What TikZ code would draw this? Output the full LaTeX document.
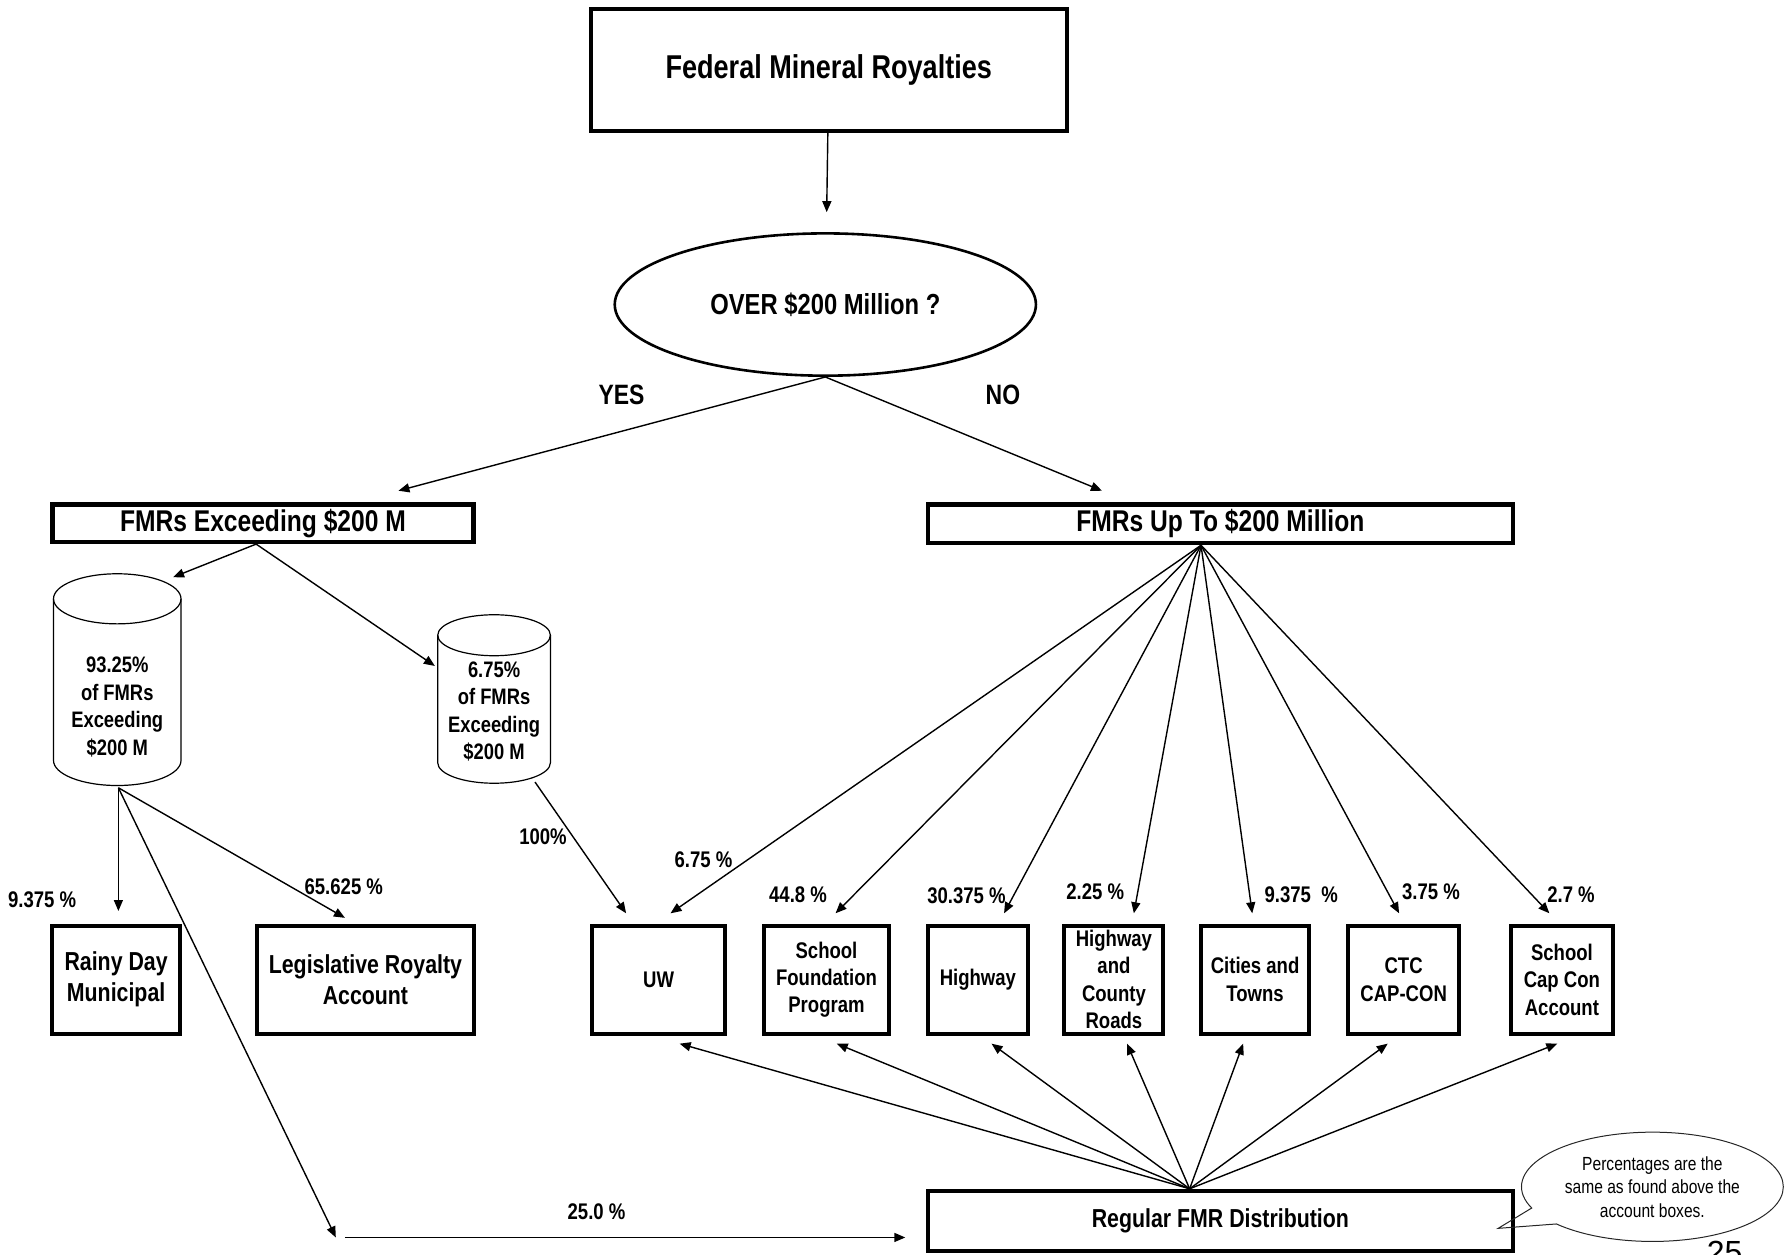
\documentclass[tikz,border=0pt]{standalone}
\usepackage{fontspec}
\setmainfont{Liberation Sans}[FakeStretch=0.82]
\newfontfamily\pageNumFont{Liberation Sans}
\usetikzlibrary{arrows.meta, positioning, shapes.geometric, shapes.callouts, calc}
\tikzset{
    flowArrow/.style={-{Triangle[length=5.5pt, width=4.5pt]}, line width=0.7pt},
    tankLine/.style={line width=0.6pt},
    titleBox/.style={rectangle, draw=black, line width=2pt, inner sep=0pt, align=center, font=\fontsize{16.5}{19}\selectfont\bfseries},
    headBox/.style={rectangle, draw=black, line width=2.2pt, inner sep=0pt, align=center, font=\fontsize{15}{18}\selectfont\bfseries},
    acctBox/.style={rectangle, draw=black, line width=2pt, inner sep=0pt, align=center, minimum height=1.9cm, font=\fontsize{11.3}{13.7}\selectfont\bfseries},
    bigAcctBox/.style={acctBox, font=\fontsize{13}{15.5}\selectfont\bfseries},
    pctLabel/.style={inner sep=0pt, font=\fontsize{11.3}{13.7}\selectfont\bfseries}
}

\begin{document}
\begin{tikzpicture}
        \useasboundingbox (0,0) rectangle (31.36,-22.04);

        % --- Local Styles ---
        \tikzset{
            decisionNode/.style={ellipse, draw=black, line width=1.3pt, inner sep=0pt, font=\fontsize{14.5}{17}\selectfont\bfseries},
            branchLabel/.style={inner sep=0pt, font=\fontsize{14}{17}\selectfont\bfseries},
            tankText/.style={inner sep=0pt, align=center, font=\fontsize{11.2}{13.7}\selectfont\bfseries},
            noteCallout/.style={ellipse callout, draw=black!85, line width=0.5pt, inner sep=0pt, align=center, font=\fontsize{9.5}{11.7}\selectfont}
        }

        % --- Tank Macro (name, half width, top, bottom, cap radius) ---
        \def\drawTank#1#2#3#4#5{
            \draw[tankLine] ($(#1)+(-#2,#3-#5)$) -- ($(#1)+(-#2,-#4+#5)$)
                arc[start angle=180, end angle=360, x radius=#2cm, y radius=#5cm]
                -- ($(#1)+(#2,#3-#5)$);
            \draw[tankLine] ($(#1)+(0,#3-#5)$) ellipse[x radius=#2cm, y radius=#5cm];
        }

        % 1. Top of the tree
        \node[titleBox, minimum width=8.36cm, minimum height=2.14cm] (fed) at (14.56,-1.23) {Federal Mineral Royalties};
        \node[decisionNode, minimum width=7.4cm, minimum height=2.5cm] (over) at (14.5,-5.35) {OVER \$200 Million ?};
        \draw[flowArrow, shorten >=0.35cm] (fed) -- (over);

        \node[branchLabel] (yes) at (10.92,-6.94) {YES};
        \node[branchLabel] (no) at (17.62,-6.94) {NO};

        % 2. Split boxes
        \node[headBox, minimum width=7.4cm, minimum height=0.66cm] (exc) at (4.62,-9.19) {FMRs Exceeding \$200 M};
        \node[headBox, minimum width=10.28cm, minimum height=0.68cm] (upto) at (21.44,-9.2) {FMRs Up To \$200 Million};

        \draw[flowArrow] (over.south) -- ($(exc.north)+(2.38,0.2)$);
        \draw[flowArrow] (over.south) -- ($(upto.north)+(-2.08,0.2)$);

        % 3. Tanks
        \node[tankText] (tankBig) at (2.06,-12.42) {93.25\%\\of FMRs\\Exceeding\\\$200 M};
        \drawTank{tankBig}{1.12}{2.34}{1.38}{0.44}
        \node[tankText] (tankSmall) at (8.68,-12.5) {6.75\%\\of FMRs\\Exceeding\\\$200 M};
        \drawTank{tankSmall}{0.99}{1.7}{1.26}{0.36}

        \draw[flowArrow] ($(exc.south)+(-0.12,0)$) -- ($(tankBig)+(0.98,2.28)$);
        \draw[flowArrow] ($(exc.south)+(-0.12,0)$) -- ($(tankSmall)+(-1.04,0.8)$);

        \coordinate (tankBigOut) at ($(tankBig)+(0.02,-1.42)$);
        \coordinate (tankSmallOut) at ($(tankSmall)+(0.72,-1.24)$);

        % 4. Account boxes
        \node[bigAcctBox, minimum width=2.24cm] (rainy) at (2.04,-17.21) {Rainy Day\\Municipal};
        \node[bigAcctBox, minimum width=3.8cm] (legis) at (6.42,-17.21) {Legislative Royalty\\Account};
        \node[acctBox, minimum width=2.34cm] (uw) at (11.57,-17.21) {UW};
        \node[acctBox, minimum width=2.2cm] (sfp) at (14.52,-17.21) {School\\Foundation\\Program};
        \node[acctBox, minimum width=1.76cm] (hwy) at (17.18,-17.21) {Highway};
        \node[acctBox, minimum width=1.74cm] (hcr) at (19.57,-17.21) {Highway\\and\\County\\Roads};
        \node[acctBox, minimum width=1.9cm] (cities) at (22.05,-17.21) {Cities and\\Towns};
        \node[acctBox, minimum width=1.96cm] (ctc) at (24.66,-17.21) {CTC\\CAP-CON};
        \node[acctBox, minimum width=1.8cm] (scc) at (27.44,-17.21) {School\\Cap Con\\Account};

        \node[headBox, line width=2pt, minimum width=10.28cm, minimum height=1.06cm, font=\fontsize{13}{15.5}\selectfont\bfseries] (regular) at (21.44,-21.45) {Regular FMR Distribution};

        % 5. Flows out of the exceeding tanks
        \coordinate (splitPt) at (5.9,-21.74);
        \draw[flowArrow] (tankBigOut) -- ($(tankBigOut |- rainy.north)+(0,0.22)$);
        \draw[flowArrow] (tankBigOut) -- ($(legis.north)+(-0.36,0.1)$);
        \draw[flowArrow] (tankBigOut) -- (splitPt);
        \draw[flowArrow] ($(splitPt)+(0.16,0)$) -- ($(regular.west |- splitPt)+(-0.36,0)$);
        \draw[flowArrow] (tankSmallOut) -- ($(uw.north)+(-0.57,0.18)$);

        % 6. Regular fans (top and bottom)
        \coordinate (upOut) at ($(upto.south)+(-0.34,0)$);
        \foreach \acct/\dx in {uw/0.21, sfp/0.16, hwy/0.46, hcr/0.35, cities/-0.05, ctc/-0.08, scc/-0.22} {
            \draw[flowArrow] (upOut) -- ($(\acct.north)+(\dx,0.18)$);
        }
        \coordinate (regOut) at ($(regular.north)+(-0.54,0)$);
        \foreach \acct/\dx in {uw/0.37, sfp/0.18, hwy/0.24, hcr/0.23, cities/-0.21, ctc/-0.28, scc/-0.08} {
            \draw[flowArrow] (regOut) -- ($(\acct.south)+(\dx,-0.14)$);
        }

        % 7. Percentages
        \node[pctLabel] (pRainy) at (0.74,-15.8) {9.375 \%};
        \node[pctLabel] (pLegis) at (6.04,-15.58) {65.625 \%};
        \node[pctLabel] (pSmall) at (9.54,-14.7) {100\%};
        \node[pctLabel] (pUw) at (12.36,-15.1) {6.75 \%};
        \node[pctLabel] (pSfp) at (14.02,-15.72) {44.8 \%};
        \node[pctLabel] (pHwy) at (16.98,-15.74) {30.375 \%};
        \node[pctLabel] (pHcr) at (19.24,-15.66) {2.25 \%};
        \node[pctLabel] (pCities) at (22.86,-15.72) {9.375\ \ \%};
        \node[pctLabel] (pCtc) at (25.14,-15.66) {3.75 \%};
        \node[pctLabel] (pScc) at (27.6,-15.72) {2.7 \%};
        \node[pctLabel] (pRegular) at (10.48,-21.28) {25.0 \%};

        % 8. Note and page number
        \node[noteCallout, minimum width=4.6cm, minimum height=1.92cm, callout absolute pointer={(26.32,-21.58)}, callout pointer arc=20] (note) at (29.03,-20.85) {Percentages are the\\same as found above the\\account boxes.};
        \node[inner sep=0pt, anchor=base, font=\pageNumFont\fontsize{16}{19}\selectfont] (pageNum) at (30.3,-22.19) {25};

\end{tikzpicture}
\end{document}
